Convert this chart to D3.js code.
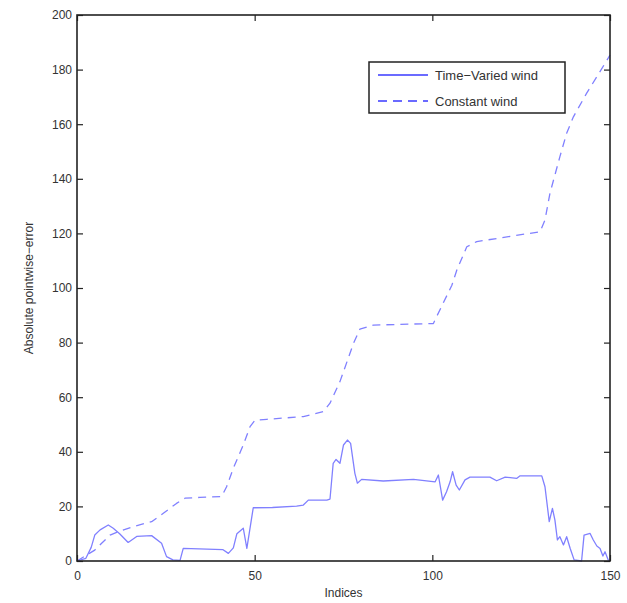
<!DOCTYPE html>
<html>
<head>
<meta charset="utf-8">
<script src="https://cdnjs.cloudflare.com/ajax/libs/d3/7.8.5/d3.min.js"></script>
<style>
    body { margin: 0; background: #fff; }
    svg { font-family: "Liberation Sans", Arial, sans-serif; }
</style>
</head>
<body>
<svg id="chart" width="627" height="603"></svg>
<script>
// time-varied wind (solid)
var tvIdx = [0, 2.5, 4, 5, 6.5, 8.8, 10.2, 12, 14.4, 16.8, 21, 23.8, 25.2, 27, 29, 29.9, 41, 42.6, 44, 45, 46.8, 47.8, 49.6, 55, 61.8, 63.7, 65.1, 70.3, 71.2, 72.1, 72.9, 74, 75, 76.1, 77, 78.2, 78.9, 80.1, 86.2, 94.7, 100.8, 101.7, 102.9, 104, 105, 105.7, 106.7, 107.6, 109.2, 110.6, 116.2, 118.1, 120.5, 123.8, 124.7, 130.8, 131.7, 132.9, 133.8, 134.5, 135.2, 135.9, 136.9, 137.8, 138.8, 139.9, 142, 142.7, 144.4, 145.3, 146.3, 147.2, 148, 148.6, 149.5, 150];
var tvErr = [0, 1, 5, 9.5, 11.4, 13.2, 12, 10, 6.8, 9, 9.3, 6.5, 1.6, 0.4, 0.2, 4.6, 4.2, 2.8, 4.8, 10, 12, 4.6, 19.5, 19.6, 20.1, 20.5, 22.3, 22.3, 22.7, 35.8, 37.2, 35.8, 42.5, 44.3, 43.1, 32.1, 28.5, 29.9, 29.3, 29.9, 29, 31.5, 22.3, 25.4, 29, 32.7, 27.8, 26, 29.7, 30.7, 30.7, 29.4, 30.7, 30.3, 31.2, 31.2, 27.2, 14.4, 19.3, 15, 7.7, 8.9, 5.9, 8.9, 4.6, 0.4, 0, 9.5, 10.1, 7.7, 5.5, 4.6, 1.8, 3.4, 0.4, 0];

// constant wind (dashed)
var cwIdx = [0, 5, 9.3, 11.6, 15.8, 21, 24.3, 28, 30.4, 34.6, 40.7, 42.1, 44, 46.8, 48.7, 50.1, 53.4, 63.7, 69.3, 71.2, 74, 77.8, 79.6, 83.4, 100.3, 101.2, 105.5, 106.9, 109.7, 112.5, 130.3, 131.7, 133.1, 135.9, 137.8, 139.7, 143.4, 146.3, 150];
var cwErr = [0, 4, 9.5, 10.7, 12.6, 14.4, 17.5, 21.1, 23, 23.3, 23.6, 27.2, 34, 42.5, 49.2, 51.6, 51.9, 52.9, 54.7, 57.8, 65.7, 79.7, 84.9, 86.4, 87, 89.5, 101, 106.6, 115.1, 117, 120.6, 124.9, 134.7, 148.1, 156.7, 162.7, 171.3, 177.4, 185.3];

var xTicks = [0, 50, 100, 150];
var yTicks = [0, 20, 40, 60, 80, 100, 120, 140, 160, 180, 200];
var seriesNames = ["Time\u2212Varied wind", "Constant wind"];

var svg = d3.select("#chart"),
    margin = { top: 15, right: 17, bottom: 42, left: 77 },
    width = +svg.attr("width") - margin.left - margin.right,
    height = +svg.attr("height") - margin.top - margin.bottom,
    g = svg.append("g").attr("transform", "translate(" + margin.left + "," + margin.top + ")");

var x = d3.scaleLinear().domain([0, 150]).range([0, width]);
var y = d3.scaleLinear().domain([0, 200]).range([height, 0]);

var lineColor = "#8080ff";
var axisColor = "#222";

// the two curves
var line = d3.line()
    .x(function (d) { return x(d[0]); })
    .y(function (d) { return y(d[1]); });

g.append("path")
    .attr("fill", "none")
    .attr("stroke", lineColor)
    .attr("stroke-width", 1.3)
    .attr("stroke-linejoin", "round")
    .attr("d", line(d3.zip(cwIdx, cwErr)))
    .attr("stroke-dasharray", "8,6");

g.append("path")
    .attr("fill", "none")
    .attr("stroke", lineColor)
    .attr("stroke-width", 1.3)
    .attr("stroke-linejoin", "round")
    .attr("d", line(d3.zip(tvIdx, tvErr)));

// axes, ticks pointing in, mirrored on top/right
function styleAxis(sel) {
    sel.select(".domain").remove();
    sel.selectAll(".tick line").attr("stroke", axisColor).attr("stroke-width", 1.2);
    sel.selectAll(".tick text").attr("fill", "#333").style("font-size", "12px");
}

g.append("g")
    .attr("transform", "translate(0," + height + ")")
    .call(d3.axisBottom(x).tickValues(xTicks).tickSizeInner(-6).tickSizeOuter(0).tickPadding(10))
    .call(styleAxis);

g.append("g")
    .call(d3.axisLeft(y).tickValues(yTicks).tickSizeInner(-6).tickSizeOuter(0).tickPadding(5))
    .call(styleAxis);

g.append("g")
    .call(d3.axisTop(x).tickValues(xTicks).tickSizeInner(-6).tickSizeOuter(0).tickFormat(""))
    .call(styleAxis);

g.append("g")
    .attr("transform", "translate(" + width + ",0)")
    .call(d3.axisRight(y).tickValues(yTicks).tickSizeInner(-6).tickSizeOuter(0).tickFormat(""))
    .call(styleAxis);

// box
g.append("rect")
    .attr("x", 0).attr("y", 0)
    .attr("width", width).attr("height", height)
    .attr("fill", "none")
    .attr("stroke", axisColor)
    .attr("stroke-width", 1.6);

// labels
svg.append("text")
    .attr("x", margin.left + width / 2)
    .attr("y", 597)
    .attr("text-anchor", "middle")
    .attr("fill", "#333")
    .style("font-size", "12px")
    .text("Indices");

svg.append("text")
    .attr("transform", "translate(33," + (margin.top + height / 2) + ") rotate(-90)")
    .attr("text-anchor", "middle")
    .attr("fill", "#333")
    .style("font-size", "12px")
    .text("Absolute pointwise\u2212error");

// legend
var legend = svg.append("g").attr("transform", "translate(369,62)");

legend.append("rect")
    .attr("width", 196).attr("height", 51)
    .attr("fill", "#fff")
    .attr("stroke", axisColor)
    .attr("stroke-width", 1.5);

seriesNames.forEach(function (name, i) {
    var ly = 13 + i * 26;
    legend.append("line")
        .attr("x1", 9).attr("x2", 59)
        .attr("y1", ly).attr("y2", ly)
        .attr("stroke", "#3a3aff")
        .attr("stroke-width", 1.5)
        .attr("stroke-dasharray", i === 1 ? "9,6" : null);
    legend.append("text")
        .attr("x", 66).attr("y", ly)
        .attr("dy", "0.35em")
        .attr("fill", "#333")
        .style("font-size", "13px")
        .text(name);
});
</script>
</body>
</html>
